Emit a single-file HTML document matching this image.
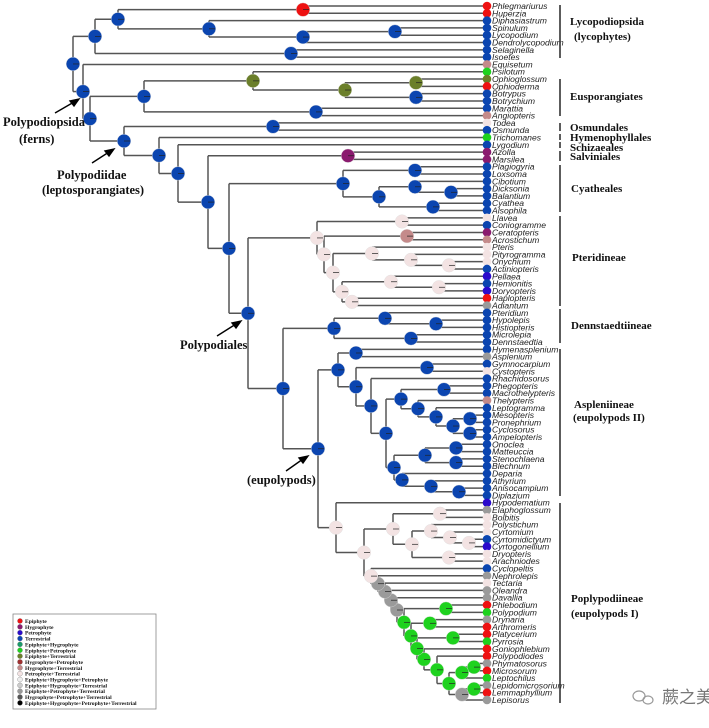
<!DOCTYPE html>
<html><head><meta charset="utf-8"><style>
html,body{margin:0;padding:0;background:#fff;}
svg{display:block;}
.lbl{font-family:"Liberation Sans",sans-serif;font-style:italic;font-size:8.6px;fill:#222;}
.cl{font-family:"Liberation Serif",serif;font-weight:bold;font-size:12.5px;fill:#111;}
.cr{font-family:"Liberation Serif",serif;font-weight:bold;font-size:11px;fill:#111;}
.lg{font-family:"Liberation Serif",serif;font-weight:bold;font-size:5.6px;fill:#111;}
#wrap{position:relative;width:709px;height:728px;}
#wrap svg{position:absolute;left:0;top:0;}
</style></head><body>
<div id="wrap">
<div id="dyn"></div>
<svg width="709" height="728" viewBox="0 0 709 728" xmlns="http://www.w3.org/2000/svg">
<g stroke="#333" stroke-width="1.6">
<line x1="560" y1="5" x2="560" y2="58"/><line x1="560" y1="79" x2="560" y2="116"/>
<line x1="560" y1="123" x2="560" y2="131"/><line x1="560" y1="134" x2="560" y2="140"/>
<line x1="560" y1="142" x2="560" y2="148"/><line x1="560" y1="151" x2="560" y2="161"/>
<line x1="560" y1="165" x2="560" y2="212"/><line x1="560" y1="216" x2="560" y2="306"/>
<line x1="560" y1="309" x2="560" y2="343"/><line x1="560" y1="349" x2="560" y2="496"/>
<line x1="560" y1="503" x2="560" y2="703"/>
</g>
<text class="cr" x="570" y="25">Lycopodiopsida</text>
<text class="cr" x="574" y="40">(lycophytes)</text>
<text class="cr" x="570" y="100">Eusporangiates</text>
<text class="cr" x="570" y="131">Osmundales</text>
<text class="cr" x="570" y="141">Hymenophyllales</text>
<text class="cr" x="570" y="151">Schizaeales</text>
<text class="cr" x="570" y="160">Salviniales</text>
<text class="cr" x="571" y="192">Cyatheales</text>
<text class="cr" x="572" y="261">Pteridineae</text>
<text class="cr" x="571" y="329">Dennstaedtiineae</text>
<text class="cr" x="574" y="408">Aspleniineae</text>
<text class="cr" x="573" y="421">(eupolypods II)</text>
<text class="cr" x="571" y="602">Poplypodiineae</text>
<text class="cr" x="571" y="617">(eupolypods I)</text>
<text class="cl" x="3" y="126">Polypodiopsida</text>
<text class="cl" x="19" y="143">(ferns)</text>
<text class="cl" x="57" y="179">Polypodiidae</text>
<text class="cl" x="42" y="194">(leptosporangiates)</text>
<text class="cl" x="180" y="349">Polypodiales</text>
<text class="cl" x="247" y="484">(eupolypods)</text>
<g stroke="#000" stroke-width="1.4" fill="#000">
<line x1="55" y1="113" x2="74" y2="102"/><polygon points="79,99 70,101 74,106"/>
<line x1="92" y1="163" x2="109" y2="152"/><polygon points="114,149 105,151 109,156"/>
<line x1="217" y1="336" x2="236" y2="324"/><polygon points="241,321 232,323 236,328"/>
<line x1="286" y1="471" x2="303" y2="459"/><polygon points="308,456 299,458 303,463"/>
</g>
<rect x="13" y="614" width="143" height="95" fill="none" stroke="#888" stroke-width="0.8"/>
<text x="662" y="703" font-family="'Noto Sans CJK SC',sans-serif" font-size="17" fill="#777">蕨之美</text>
<g fill="none" stroke="#999" stroke-width="1.2"><ellipse cx="639" cy="696" rx="6" ry="5"/><ellipse cx="648" cy="700" rx="5" ry="4"/></g>
</svg>
</div>
<script>
var C={b:"#0b45b0",r:"#ee1111",g:"#1ed21e",o:"#6b7f2a",p:"#8a1a6e",d:"#c48a8a",l:"#f3e3e3",y:"#9a9a9a",i:"#2a0acc"};
var names="Phlegmariurus,Huperzia,Diphasiastrum,Spinulum,Lycopodium,Dendrolycopodium,Selaginella,Isoetes,Equisetum,Psilotum,Ophioglossum,Ophioderma,Botrypus,Botrychium,Marattia,Angiopteris,Todea,Osmunda,Trichomanes,Lygodium,Azolla,Marsilea,Plagiogyria,Loxsoma,Cibotium,Dicksonia,Balantium,Cyathea,Alsophila,Llavea,Coniogramme,Ceratopteris,Acrostichum,Pteris,Pityrogramma,Onychium,Actiniopteris,Pellaea,Hemionitis,Doryopteris,Haplopteris,Adiantum,Pteridium,Hypolepis,Histiopteris,Microlepia,Dennstaedtia,Hymenasplenium,Asplenium,Gymnocarpium,Cystopteris,Rhachidosorus,Phegopteris,Macrothelypteris,Thelypteris,Leptogramma,Mesopteris,Pronephrium,Cyclosorus,Ampelopteris,Onoclea,Matteuccia,Stenochlaena,Blechnum,Deparia,Athyrium,Anisocampium,Diplazium,Hypodematium,Elaphoglossum,Bolbitis,Polystichum,Cyrtomium,Cyrtomidictyum,Cyrtogonellium,Dryopteris,Arachniodes,Cyclopeltis,Nephrolepis,Tectaria,Oleandra,Davallia,Phlebodium,Polypodium,Drynaria,Arthromeris,Platycerium,Pyrrosia,Goniophlebium,Polypodiodes,Phymatosorus,Microsorum,Leptochilus,Lepidomicrosorium,Lemmaphyllium,Lepisorus".split(",");
var lc="rr"+"bbbbbb"+"dgor"+"bbb"+"dlbgb"+"pp"+"bbbbbbb"+"lbpd"+"lll"+"bibiry"+"bbbbbb"+"yblbbbd"+"bbbbbbbbbbbbb"+"iylll"+"bill"+"bylyy"+"rgyrrgrr"+"yrgyry";
var T={};
function D(id,x,c,k){T[id]={x:x,c:c,k:k};}
D('l1',303,'r',[0,1]);D('l2',395,'b',[3,4]);D('l3',303,'b',['l2',5]);D('l4',209,'b',[2,'l3']);D('l5',118,'b',['l1','l4']);D('l6',291,'b',[6,7]);D('ly',95,'b',['l5','l6']);
D('e1',416,'o',[10,11]);D('e2',416,'b',[12,13]);D('e3',345,'o',['e1','e2']);D('e4',253,'o',[9,'e3']);D('e5',316,'b',[14,15]);D('eu',144,'b',['e4','e5']);
D('os',273,'b',[16,17]);D('az',348,'p',[20,21]);
D('c1',415,'b',[22,23]);D('c2',451,'b',[25,26]);D('c3',415,'b',[24,'c2']);D('c4',433,'b',[27,28]);D('c5',379,'b',['c3','c4']);D('cy',343,'b',['c1','c5']);
D('p1',402,'l',[29,30]);D('p2',407,'d',[31,32]);D('p3',449,'l',[35,36]);D('p4',411,'l',[34,'p3']);D('p5',372,'l',[33,'p4']);D('p6',439,'l',[38,39]);D('p7',391,'l',[37,'p6']);D('p8',352,'l',[40,41]);D('p9',342,'l',['p7','p8']);D('p10',333,'l',['p5','p9']);D('p11',324,'l',['p2','p10']);D('pt',317,'l',['p1','p11']);
D('d1',436,'b',[43,44]);D('d2',385,'b',[42,'d1']);D('d3',411,'b',[45,46]);D('dn',334,'b',['d2','d3']);
D('a1',356,'b',[47,48]);D('a2',427,'b',[49,50]);D('a3',444,'b',[52,53]);D('a4',470,'b',[56,57]);D('a5',470,'b',[58,59]);D('a6',453,'b',['a4','a5']);D('a7',436,'b',[55,'a6']);D('a8',418,'b',[54,'a7']);D('a9',401,'b',['a3','a8']);D('a10',456,'b',[60,61]);D('a11',456,'b',[62,63]);D('a12',425,'b',['a10','a11']);D('a13',459,'b',[66,67]);D('a14',431,'b',[65,'a13']);D('a15',402,'b',[64,'a14']);D('a16',394,'b',['a12','a15']);D('a17',386,'b',['a9','a16']);D('a18',371,'b',[51,'a17']);D('a19',356,'b',['a2','a18']);D('as',338,'b',['a1','a19']);
D('q1',440,'l',[69,70]);D('q2',469,'l',[73,74]);D('q3',450,'l',[72,'q2']);D('q4',431,'l',[71,'q3']);D('q5',449,'l',[75,76]);D('q6',412,'l',['q4','q5']);D('q7',393,'l',['q1','q6']);
D('r1',474,'g',[90,91]);D('r2',462,'g',['r1',92]);D('r3',474,'g',[93,94]);D('r4',462,'y',['r3',95]);D('r5',449,'g',['r2','r4']);D('r6',437,'g',[89,'r5']);D('r7',424,'g',[88,'r6']);D('r8',453,'g',[86,87]);D('r9',417,'g',['r8','r7']);D('r10',430,'g',[84,85]);D('r11',411,'g',['r10','r9']);D('r12',446,'g',[82,83]);D('r13',404,'g',['r12','r11']);D('r14',397,'y',[81,'r13']);D('r15',391,'y',[80,'r14']);D('r16',385,'y',[79,'r15']);D('r17',378,'y',[78,'r16']);D('r18',371,'l',[77,'r17']);D('r19',364,'l',['q7','r18']);D('po',336,'l',[68,'r19']);
D('ep',318,'b',['as','po']);D('m1',283,'b',['dn','ep']);D('pd',248,'b',['pt','m1']);D('m2',229,'b',['cy','pd']);D('m3',208,'b',['az','m2']);D('m4',178,'b',[19,'m3']);D('m5',159,'b',[18,'m4']);D('m6',124,'b',['os','m5']);D('m7',90,'b',['eu','m6']);D('fe',83,'b',[8,'m7']);D('root',73,'b',['ly','fe']);
var LX=487;
function ly(i){return 6+i*7.305;}
var lines=[],pies=[];
function walk(id){
  if(typeof id==="number"){return {x:LX,y:ly(id)};}
  var n=T[id];var ps=[];
  for(var j=0;j<n.k.length;j++){ps.push(walk(n.k[j]));}
  var y=(ps[0].y+ps[ps.length-1].y)/2;
  lines.push('<line x1="'+n.x+'" y1="'+ps[0].y+'" x2="'+n.x+'" y2="'+ps[ps.length-1].y+'"/>');
  for(var j2=0;j2<ps.length;j2++){lines.push('<line x1="'+n.x+'" y1="'+ps[j2].y+'" x2="'+ps[j2].x+'" y2="'+ps[j2].y+'"/>');}
  pies.push('<circle cx="'+n.x+'" cy="'+y+'" r="6.8" fill="'+C[n.c]+'" stroke="#ddd" stroke-width="0.4"/><line x1="'+n.x+'" y1="'+y+'" x2="'+(n.x+6)+'" y2="'+y+'" stroke="#222" stroke-width="0.7"/>');
  return {x:n.x,y:y};
}
var out="";
try{
  var r=walk('root');
  lines.push('<line x1="66" y1="'+r.y+'" x2="73" y2="'+r.y+'"/>');
  out+='<g stroke="#555" stroke-width="1.5">'+lines.join("")+'</g>'+pies.join("");
}catch(e){}
for(var i=0;i<96;i++){
  var y=ly(i);var col=C[lc.charAt(i)]||C.b;
  out+='<circle cx="'+LX+'" cy="'+y+'" r="4.3" fill="'+col+'"/>';
  out+='<text class="lbl" x="492" y="'+(y+3)+'">'+names[i]+'</text>';
}
var L=[["Epiphyte","#ee1111"],["Hygrophyte","#8a1a6e"],["Petrophyte","#2a0acc"],["Terrestrial","#0b45b0"],["Epiphyte+Hygrophyte","#1a9a6a"],["Epiphyte+Petrophyte","#1ed21e"],["Epiphyte+Terrestrial","#6b7f2a"],["Hygrophyte+Petrophyte","#a03030"],["Hygrophyte+Terrestrial","#c48a8a"],["Petrophyte+Terrestrial","#f3e3e3"],["Epiphyte+Hygrophyte+Petrophyte","#eeeeee"],["Epiphyte+Hygrophyte+Terrestrial","#cccccc"],["Epiphyte+Petrophyte+Terrestrial","#999999"],["Hygrophyte+Petrophyte+Terrestrial","#555555"],["Epiphyte+Hygrophyte+Petrophyte+Terrestrial","#000000"]];
for(var k=0;k<L.length;k++){var yy=621+k*5.85;out+='<circle cx="20" cy="'+yy+'" r="2.5" fill="'+L[k][1]+'" stroke="#666" stroke-width="0.3"/><text class="lg" x="25" y="'+(yy+2)+'">'+L[k][0]+'</text>';}
document.getElementById("dyn").innerHTML='<svg width="709" height="728" viewBox="0 0 709 728" xmlns="http://www.w3.org/2000/svg">'+out+'</svg>';
</script>
</body></html>
